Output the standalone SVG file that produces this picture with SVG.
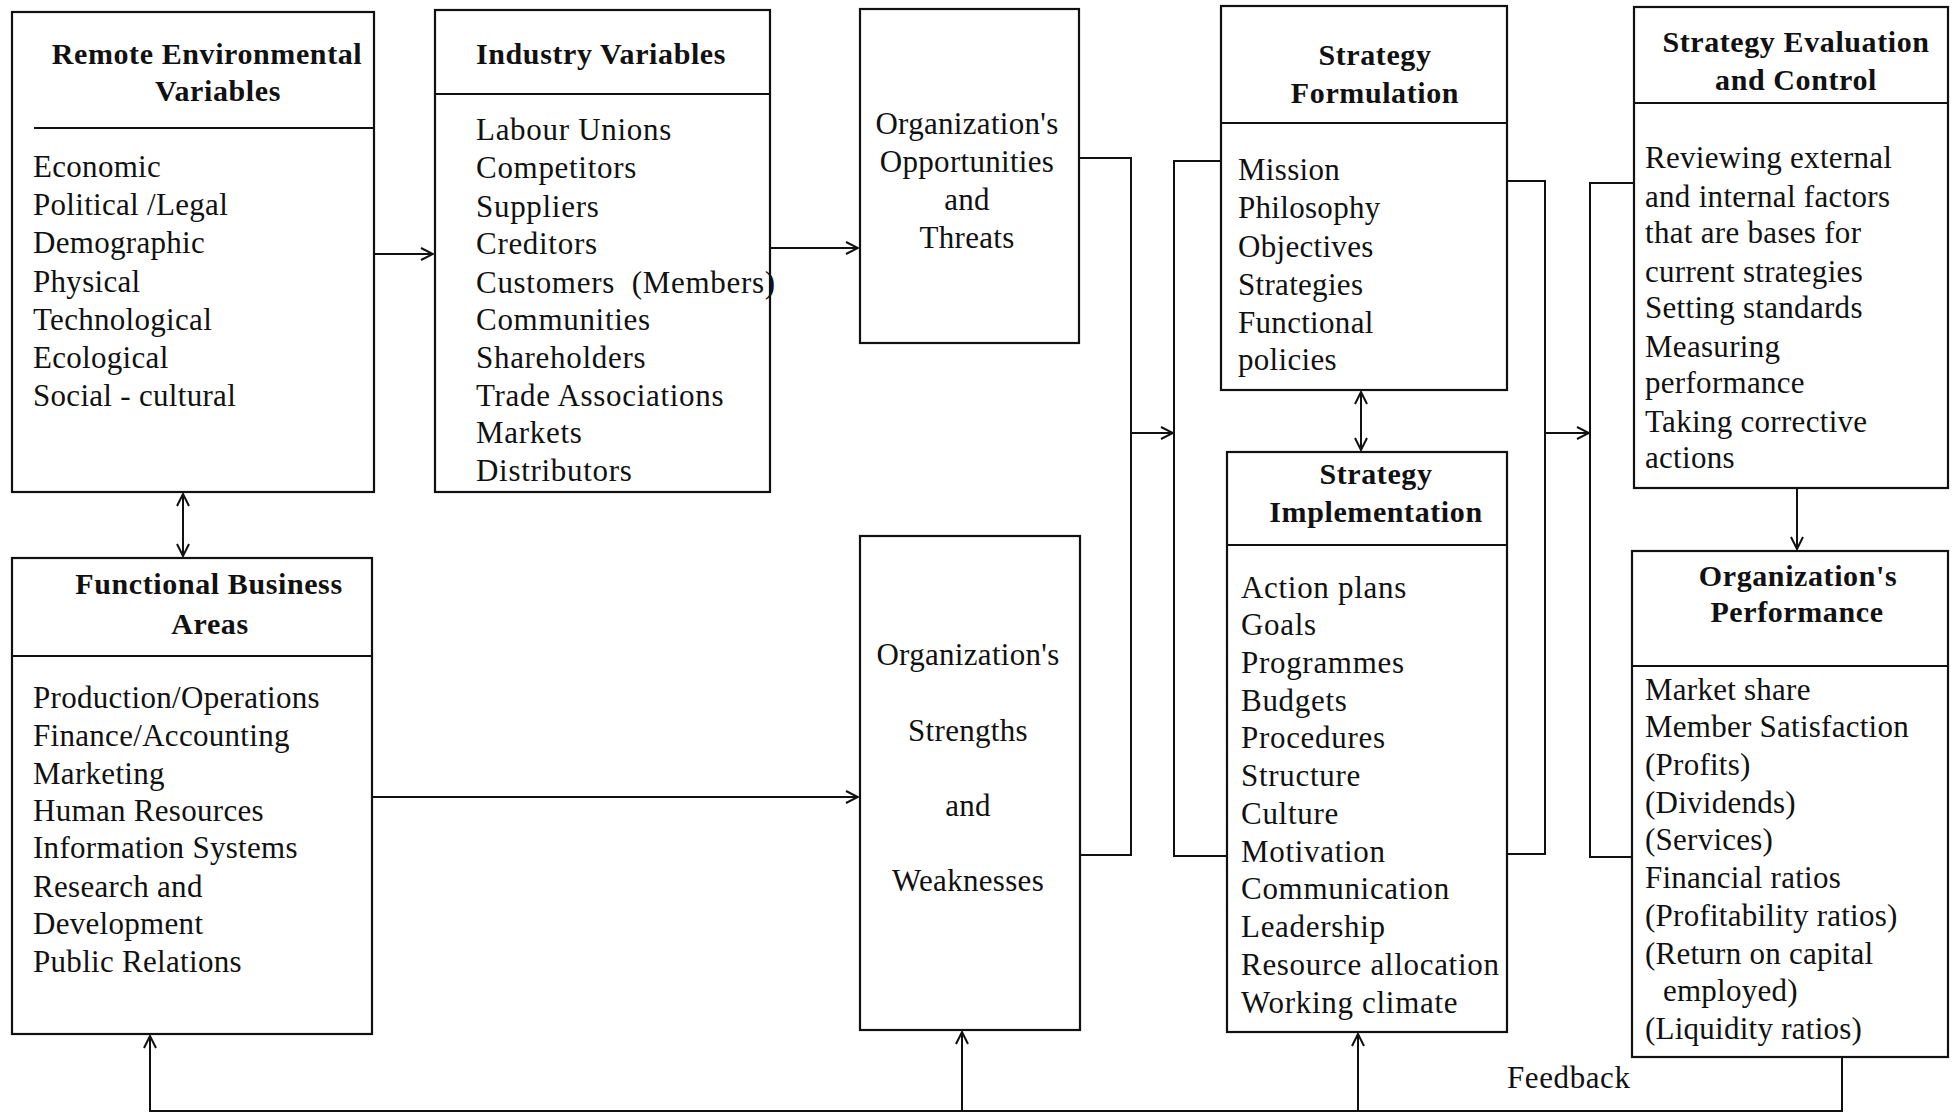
<svg xmlns="http://www.w3.org/2000/svg" width="1954" height="1116" viewBox="0 0 1954 1116">
<defs>
<style>
text{font-family:"Liberation Serif","Times New Roman",serif;fill:#111;}
.t{font-size:30px;font-weight:bold;letter-spacing:0.6px;}
.b{font-size:31px;letter-spacing:0.3px;}
.w{font-size:31px;letter-spacing:0.7px;}
.p{font-size:31px;letter-spacing:0.25px;}
.m{text-anchor:middle;}
.box{fill:#fff;stroke:#111;stroke-width:2.2;}
.div{stroke:#111;stroke-width:2.2;fill:none;}
.c{stroke:#111;stroke-width:2;fill:none;}
</style>
<marker id="ah" viewBox="0 0 14 14" refX="13" refY="7" markerWidth="14" markerHeight="14" markerUnits="userSpaceOnUse" orient="auto-start-reverse">
<path d="M1,1 L13,7 L1,13" fill="none" stroke="#111" stroke-width="2"/>
</marker>
</defs>
<rect width="1954" height="1116" fill="#fff"/>

<g id="connectors">
<path class="c" d="M374,254 H433" marker-end="url(#ah)"/>
<path class="c" d="M770,248 H858" marker-end="url(#ah)"/>
<path class="c" d="M372,797 H858" marker-end="url(#ah)"/>
<path class="c" d="M183,494 V556" marker-start="url(#ah)" marker-end="url(#ah)"/>
<path class="c" d="M1079,158 H1131 V855 H1080"/>
<path class="c" d="M1131,433 H1173" marker-end="url(#ah)"/>
<path class="c" d="M1221,161 H1174 V856 H1227"/>
<path class="c" d="M1361,392 V450" marker-start="url(#ah)" marker-end="url(#ah)"/>
<path class="c" d="M1507,181 H1545 V854 H1507"/>
<path class="c" d="M1545,433 H1589" marker-end="url(#ah)"/>
<path class="c" d="M1634,183 H1590 V857 H1632"/>
<path class="c" d="M1797,488 V549" marker-end="url(#ah)"/>
<path class="c" d="M1842,1057 V1111 H150 V1036" marker-end="url(#ah)"/>
<path class="c" d="M962,1111 V1032" marker-end="url(#ah)"/>
<path class="c" d="M1358,1111 V1034" marker-end="url(#ah)"/>
</g>

<g id="remote">
<rect class="box" x="12" y="12" width="362" height="480"/>
<line class="div" x1="34" y1="128" x2="374" y2="128"/>
<text class="t m" x="207" y="64">Remote Environmental</text>
<text class="t m" x="218" y="101">Variables</text>
<text class="b" x="33"><tspan x="33" y="177">Economic</tspan><tspan x="33" y="215">Political /Legal</tspan><tspan x="33" y="253">Demographic</tspan><tspan x="33" y="292">Physical</tspan><tspan x="33" y="330">Technological</tspan><tspan x="33" y="368">Ecological</tspan><tspan x="33" y="406">Social - cultural</tspan></text>
</g>

<g id="industry">
<rect class="box" x="435" y="10" width="335" height="482"/>
<line class="div" x1="435" y1="94" x2="770" y2="94"/>
<text class="t" x="476" y="64">Industry Variables</text>
<text class="w"><tspan x="476" y="140">Labour Unions</tspan><tspan x="476" y="178">Competitors</tspan><tspan x="476" y="217">Suppliers</tspan><tspan x="476" y="254">Creditors</tspan><tspan x="476" y="293">Customers&#160; (Members)</tspan><tspan x="476" y="330">Communities</tspan><tspan x="476" y="368">Shareholders</tspan><tspan x="476" y="406">Trade Associations</tspan><tspan x="476" y="443">Markets</tspan><tspan x="476" y="481">Distributors</tspan></text>
</g>

<g id="opportunities">
<rect class="box" x="860" y="9" width="219" height="334"/>
<text class="b m"><tspan x="967" y="134">Organization's</tspan><tspan x="967" y="172">Opportunities</tspan><tspan x="967" y="210">and</tspan><tspan x="967" y="248">Threats</tspan></text>
</g>

<g id="functional">
<rect class="box" x="12" y="558" width="360" height="476"/>
<line class="div" x1="12" y1="656" x2="372" y2="656"/>
<text class="t m" x="209" y="594">Functional Business</text>
<text class="t m" x="210" y="634">Areas</text>
<text class="b"><tspan x="33" y="708">Production/Operations</tspan><tspan x="33" y="746">Finance/Accounting</tspan><tspan x="33" y="784">Marketing</tspan><tspan x="33" y="821">Human Resources</tspan><tspan x="33" y="858">Information Systems</tspan><tspan x="33" y="897">Research and</tspan><tspan x="33" y="934">Development</tspan><tspan x="33" y="972">Public Relations</tspan></text>
</g>

<g id="strengths">
<rect class="box" x="860" y="536" width="220" height="494"/>
<text class="b m"><tspan x="968" y="665">Organization's</tspan><tspan x="968" y="741">Strengths</tspan><tspan x="968" y="816">and</tspan><tspan x="968" y="891">Weaknesses</tspan></text>
</g>

<g id="formulation">
<rect class="box" x="1221" y="6" width="286" height="384"/>
<line class="div" x1="1221" y1="123" x2="1507" y2="123"/>
<text class="t m" x="1375" y="65">Strategy</text>
<text class="t m" x="1375" y="103">Formulation</text>
<text class="b"><tspan x="1238" y="180">Mission</tspan><tspan x="1238" y="218">Philosophy</tspan><tspan x="1238" y="257">Objectives</tspan><tspan x="1238" y="295">Strategies</tspan><tspan x="1238" y="333">Functional</tspan><tspan x="1238" y="370">policies</tspan></text>
</g>

<g id="implementation">
<rect class="box" x="1227" y="452" width="280" height="580"/>
<line class="div" x1="1227" y1="545" x2="1507" y2="545"/>
<text class="t m" x="1376" y="484">Strategy</text>
<text class="t m" x="1376" y="522">Implementation</text>
<text class="w"><tspan x="1241" y="598">Action plans</tspan><tspan x="1241" y="635">Goals</tspan><tspan x="1241" y="673">Programmes</tspan><tspan x="1241" y="711">Budgets</tspan><tspan x="1241" y="748">Procedures</tspan><tspan x="1241" y="786">Structure</tspan><tspan x="1241" y="824">Culture</tspan><tspan x="1241" y="862">Motivation</tspan><tspan x="1241" y="899">Communication</tspan><tspan x="1241" y="937">Leadership</tspan><tspan x="1241" y="975">Resource allocation</tspan><tspan x="1241" y="1013">Working climate</tspan></text>
</g>

<g id="evaluation">
<rect class="box" x="1634" y="7" width="314" height="481"/>
<line class="div" x1="1634" y1="103" x2="1948" y2="103"/>
<text class="t m" x="1796" y="52">Strategy Evaluation</text>
<text class="t m" x="1796" y="90">and Control</text>
<text class="b"><tspan x="1645" y="168">Reviewing external</tspan><tspan x="1645" y="207">and internal factors</tspan><tspan x="1645" y="243">that are bases for</tspan><tspan x="1645" y="282">current strategies</tspan><tspan x="1645" y="318">Setting standards</tspan><tspan x="1645" y="357">Measuring</tspan><tspan x="1645" y="393">performance</tspan><tspan x="1645" y="432">Taking corrective</tspan><tspan x="1645" y="468">actions</tspan></text>
</g>

<g id="performance">
<rect class="box" x="1632" y="551" width="316" height="506"/>
<line class="div" x1="1632" y1="666" x2="1948" y2="666"/>
<text class="t m" x="1798" y="586">Organization's</text>
<text class="t m" x="1797" y="622">Performance</text>
<text class="p"><tspan x="1645" y="700">Market share</tspan><tspan x="1645" y="737">Member Satisfaction</tspan><tspan x="1645" y="775">(Profits)</tspan><tspan x="1645" y="813">(Dividends)</tspan><tspan x="1645" y="850">(Services)</tspan><tspan x="1645" y="888">Financial ratios</tspan><tspan x="1645" y="926">(Profitability ratios)</tspan><tspan x="1645" y="964">(Return on capital</tspan><tspan x="1663" y="1001">employed)</tspan><tspan x="1645" y="1039">(Liquidity ratios)</tspan></text>
</g>

<g id="feedback-label">
<text class="b" x="1507" y="1088" style="letter-spacing:0.6px">Feedback</text>
</g>
</svg>
